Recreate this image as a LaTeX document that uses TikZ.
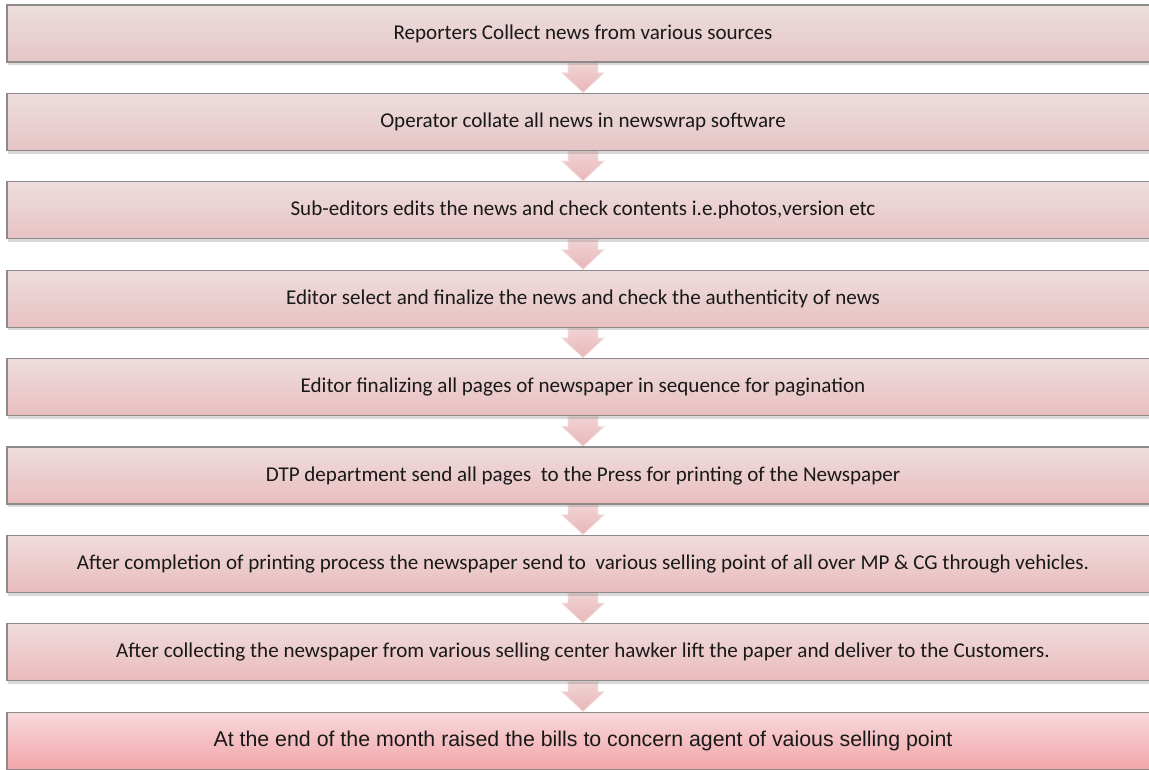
\documentclass[tikz,border=0pt]{standalone}
\usepackage{fontspec}
\setmainfont{Carlito}
\newfontfamily\arialfont{Liberation Sans}
\usepackage{tikz}
\usetikzlibrary{calc,shadows,backgrounds,positioning}

\definecolor{topfirst}{HTML}{ECDDDD}
\definecolor{topfinal}{HTML}{F7D8DC}
\definecolor{botfirst}{HTML}{E6C6C7}
\definecolor{botfinal}{HTML}{F2A6A9}
\definecolor{edgegray}{HTML}{8E8A8A}
\definecolor{arrowtop}{HTML}{F0D3D4}
\definecolor{arrowbot}{HTML}{E9B6B8}
\definecolor{arrowedge}{HTML}{F6E6E6}

\tikzset{
  stepbox/.style={rectangle, draw=edgegray, line width=1pt,
    top color=topfinal!#1!topfirst, bottom color=botfinal!#1!botfirst,
    minimum width=864pt, minimum height=42.75pt, inner sep=0pt,
    text=black!90, font=\fontsize{15.8}{18}\selectfont,
    drop shadow={shadow xshift=0.5pt, shadow yshift=-2.4pt, opacity=0.3}},
  flowarrow/.style={draw=arrowedge, line width=0.6pt,
    top color=arrowtop, bottom color=arrowbot,
    to path={let \p1=(\tikztostart), \p2=(\tikztotarget) in
      (\x1-11.25pt,\y1) -- (\x1+11.25pt,\y1) -- (\x1+11.25pt,\y1-7.5pt)
      -- (\x1+16.1pt,\y1-7.5pt) -- (\x1,\y2) -- (\x1-16.1pt,\y1-7.5pt)
      -- (\x1-11.25pt,\y1-7.5pt) -- cycle}}
}

\begin{document}
\begin{tikzpicture}[x=0.75pt,y=-0.75pt]
  \useasboundingbox (0,0) rectangle (1149,769);
  \node[stepbox=0]  (s1) at (583,33.5)  {Reporters Collect news from various sources};
  \node[stepbox=5]  (s2) at (583,121.9) {Operator collate all news in newswrap software};
  \node[stepbox=10] (s3) at (583,210.3) {Sub-editors edits the news and check contents i.e.photos,version etc};
  \node[stepbox=15] (s4) at (583,298.7) {Editor select and finalize the news and check the authenticity of news};
  \node[stepbox=22] (s5) at (583,387.1) {Editor finalizing all pages of newspaper in sequence for pagination};
  \node[stepbox=26] (s6) at (583,475.5) {DTP department send all pages\ \ to the Press for printing of the Newspaper};
  \node[stepbox=30] (s7) at (583,563.9) {After completion of printing process the newspaper send to\ \ various selling point of all over MP \& CG through vehicles.};
  \node[stepbox=35] (s8) at (583,652.3) {After collecting the newspaper from various selling center hawker lift the paper and deliver to the Customers.};
  \node[stepbox=100, font=\arialfont\fontsize{16}{19}\selectfont] (s9) at (583,740.7) {At the end of the month raised the bills to concern agent of vaious selling point};
  % block arrows sit behind the boxes
  \begin{scope}[on background layer]
    \draw[flowarrow] (s1.south) to (s2.north);
    \draw[flowarrow] (s2.south) to (s3.north);
    \draw[flowarrow] (s3.south) to (s4.north);
    \draw[flowarrow] (s4.south) to (s5.north);
    \draw[flowarrow] (s5.south) to (s6.north);
    \draw[flowarrow] (s6.south) to (s7.north);
    \draw[flowarrow] (s7.south) to (s8.north);
    \draw[flowarrow] (s8.south) to (s9.north);
  \end{scope}
\end{tikzpicture}
\end{document}
